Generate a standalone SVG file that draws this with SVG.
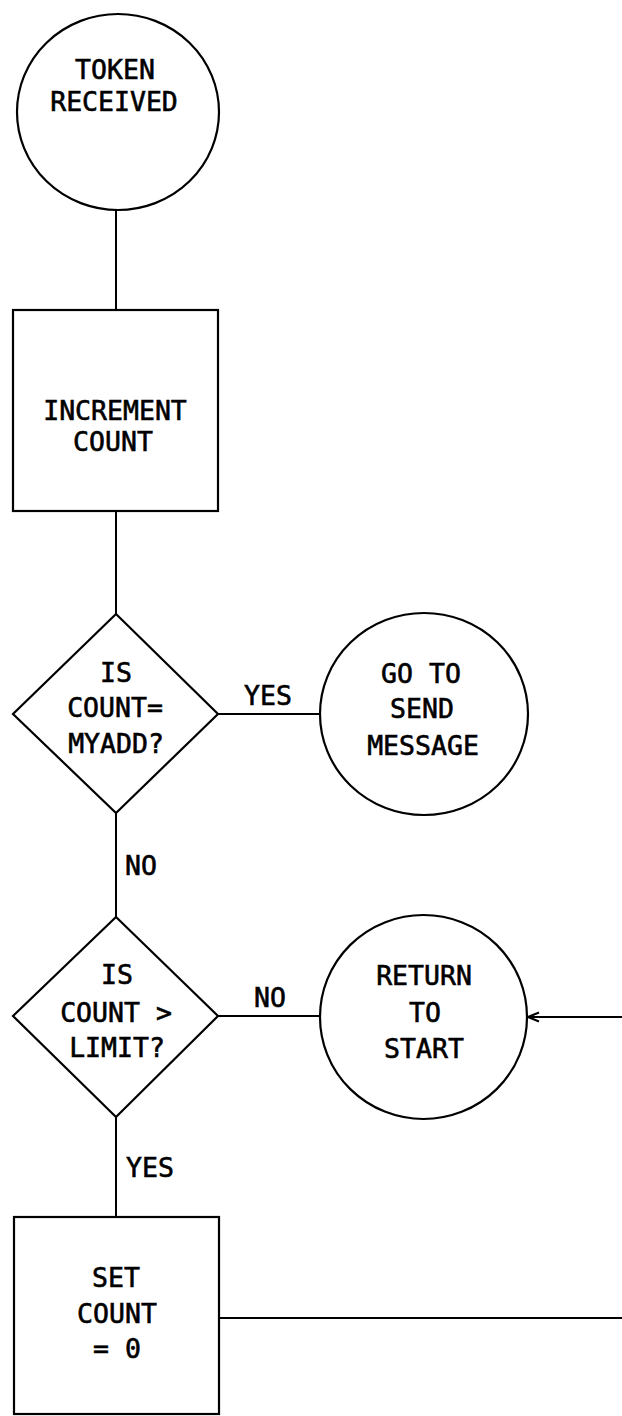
<svg xmlns="http://www.w3.org/2000/svg" width="622" height="1416" viewBox="0 0 622 1416">
<style>
.s{fill:#fff;stroke:#000;stroke-width:2.2}
.c{fill:none;stroke:#000;stroke-width:2}
text{font-family:"DejaVu Sans Mono","Liberation Mono",monospace;font-size:26.5px;fill:#000;stroke:#000;stroke-width:0.6;text-anchor:middle}
.l{text-anchor:start}
</style>
<defs>
<marker id="ah" markerUnits="userSpaceOnUse" markerWidth="14" markerHeight="12" refX="13" refY="6" orient="auto" viewBox="0 0 14 12">
<path d="M2,1.5 L13,6 L2,10.5" fill="none" stroke="#000" stroke-width="2"/>
</marker>
</defs>
<rect width="622" height="1416" fill="#fff"/>
<g id="connectors">
<line class="c" x1="116" y1="210" x2="116" y2="310"/>
<line class="c" x1="116" y1="511" x2="116" y2="614"/>
<line class="c" x1="218" y1="714" x2="320" y2="714"/>
<line class="c" x1="116" y1="813" x2="116" y2="917"/>
<line class="c" x1="218" y1="1016" x2="320" y2="1016"/>
<line class="c" x1="116" y1="1117" x2="116" y2="1217"/>
<line class="c" x1="219" y1="1318" x2="622" y2="1318"/>
<text x="268" y="705">YES</text>
<text class="l" x="125" y="875">NO</text>
<text x="270" y="1007">NO</text>
<text class="l" x="126" y="1177">YES</text>
</g>
<g id="token-received">
<ellipse class="s" cx="118" cy="112" rx="101" ry="98"/>
<text x="115" y="79">TOKEN</text>
<text x="114" y="111">RECEIVED</text>
</g>
<g id="increment-count">
<rect class="s" x="13" y="310" width="205" height="201"/>
<text x="115" y="420">INCREMENT</text>
<text x="113" y="451">COUNT</text>
</g>
<g id="is-count-myadd">
<polygon class="s" points="116,614 218,714 116,813 13,714"/>
<text x="116" y="682">IS</text>
<text x="115" y="717">COUNT=</text>
<text x="116" y="753">MYADD?</text>
</g>
<g id="go-to-send-message">
<ellipse class="s" cx="424" cy="714" rx="104" ry="101"/>
<text x="421" y="683">GO TO</text>
<text x="422" y="718">SEND</text>
<text x="423" y="755">MESSAGE</text>
</g>
<g id="is-count-limit">
<polygon class="s" points="116,917 218,1016 116,1117 13,1016"/>
<text x="117" y="984">IS</text>
<text x="116" y="1022">COUNT &gt;</text>
<text x="117" y="1057">LIMIT?</text>
</g>
<g id="return-to-start">
<ellipse class="s" cx="423.5" cy="1017" rx="103.5" ry="102"/>
<text x="424" y="985">RETURN</text>
<text x="425" y="1022">TO</text>
<text x="424" y="1058">START</text>
</g>
<g id="set-count-zero">
<rect class="s" x="14" y="1217" width="205" height="197"/>
<text x="116" y="1287">SET</text>
<text x="117" y="1323">COUNT</text>
<text x="117" y="1358">= 0</text>
</g>
<g id="return-arrow">
<line class="c" x1="622" y1="1017" x2="528" y2="1017" marker-end="url(#ah)"/>
</g>
</svg>
